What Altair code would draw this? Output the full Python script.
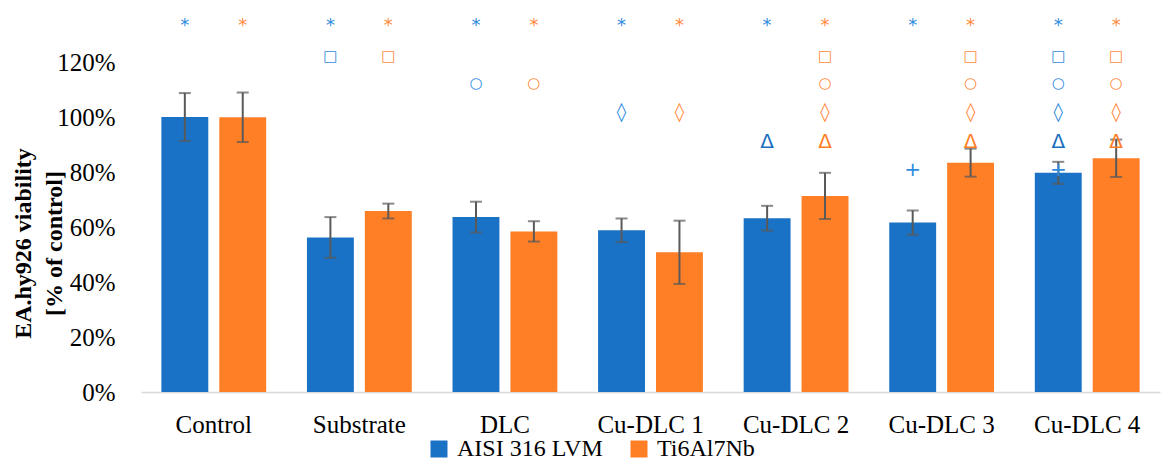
import altair as alt
import pandas as pd

categories = ["Control", "Substrate", "DLC", "Cu-DLC 1", "Cu-DLC 2", "Cu-DLC 3", "Cu-DLC 4"]
series = ["AISI 316 LVM", "Ti6Al7Nb"]

aisi_mean = [100.0, 56.2, 63.6, 58.8, 63.2, 61.6, 79.7]
aisi_sd = [8.7, 7.4, 5.6, 4.3, 4.5, 4.4, 4.0]
ti_mean = [99.9, 65.8, 58.4, 50.8, 71.3, 83.4, 85.0]
ti_sd = [9.0, 2.7, 3.7, 11.5, 8.4, 5.1, 6.8]

# significance markers above each bar
aisi_marks = [["*"], ["*", "□"], ["*", "○"], ["*", "◊"], ["*", "Δ"], ["*", "+"],
              ["*", "□", "○", "◊", "Δ", "+"]]
ti_marks = [["*"], ["*", "□"], ["*", "○"], ["*", "◊"], ["*", "□", "○", "◊", "Δ"],
            ["*", "□", "○", "◊", "Δ"], ["*", "□", "○", "◊", "Δ"]]
mark_levels = {"*": 133.0, "□": 122.2, "○": 112.3, "◊": 102.0, "Δ": 91.0, "+": 80.7}

y_ticks = [0, 20, 40, 60, 80, 100, 120]

# styles
BAR_COLORS = ["#1A72C6", "#FF7F27"]
SYM_COLORS = {"AISI 316 LVM": "#2E8BDD", "Ti6Al7Nb": "#FF8A3D"}
DELTA_COLORS = {"AISI 316 LVM": "#1A6EC0", "Ti6Al7Nb": "#FF7F27"}
SYM_SIZES = {"*": 18, "□": 15, "○": 15, "◊": 19, "Δ": 20, "+": 20}
FONT = "Liberation Serif"

rows = []
for s, means, sds in [(series[0], aisi_mean, aisi_sd), (series[1], ti_mean, ti_sd)]:
    for c, m, sd in zip(categories, means, sds):
        rows.append({"category": c, "series": s, "mean": m, "lo": m - sd, "hi": m + sd})
bars_df = pd.DataFrame(rows)

sym_rows = []
for s, marks in [(series[0], aisi_marks), (series[1], ti_marks)]:
    for c, ms in zip(categories, marks):
        for sym in ms:
            sym_rows.append({
                "category": c, "series": s, "sym": sym, "level": mark_levels[sym],
                "col": DELTA_COLORS[s] if sym == "Δ" else SYM_COLORS[s],
                "fs": SYM_SIZES[sym],
            })
sym_df = pd.DataFrame(sym_rows)

x_enc = alt.X(
    "category:N", sort=categories,
    scale=alt.Scale(paddingInner=0.28, paddingOuter=0.14),
    axis=alt.Axis(title=None, labelAngle=0, ticks=False, domainColor="#D9D9D9",
                  domainWidth=1.5, labelFont=FONT, labelFontSize=25,
                  labelColor="#000000", labelPadding=20),
)
xo_enc = alt.XOffset("series:N", sort=series,
                     scale=alt.Scale(paddingInner=0.19, paddingOuter=0))
y_scale = alt.Scale(domain=[0, 140], nice=False, zero=True)
y_axis = alt.Axis(values=y_ticks, labelExpr="datum.value + '%'", grid=False,
                  domain=False, ticks=False, labelFont=FONT, labelFontSize=25,
                  labelColor="#000000", labelPadding=26,
                  title=["EA.hy926 viability", "[% of control]"],
                  titleFont=FONT, titleFontSize=24, titleFontWeight="bold",
                  titleColor="#000000", titleAngle=270, titleBaseline="middle",
                  titleX=-118, titleY=236, titleLineHeight=31)

bars = alt.Chart(bars_df).mark_bar().encode(
    x=x_enc,
    xOffset=xo_enc,
    y=alt.Y("mean:Q", scale=y_scale, axis=y_axis),
    color=alt.Color("series:N", sort=series,
                    scale=alt.Scale(domain=series, range=BAR_COLORS),
                    legend=alt.Legend(orient="none", legendX=286, legendY=430,
                                      direction="horizontal", title=None,
                                      symbolType="square", symbolSize=289,
                                      symbolStrokeWidth=0, labelFont=FONT,
                                      labelFontSize=24, labelColor="#000000",
                                      labelLimit=400,
                                      columnPadding=24, labelOffset=6, padding=0)),
)

err = alt.Chart(bars_df).mark_rule(color="#595959", strokeWidth=2).encode(
    x=x_enc, xOffset=xo_enc,
    y=alt.Y("lo:Q", scale=y_scale, axis=y_axis), y2="hi:Q",
)
cap_lo = alt.Chart(bars_df).mark_tick(color="#595959", thickness=2, size=12).encode(
    x=x_enc, xOffset=xo_enc, y=alt.Y("lo:Q", scale=y_scale, axis=y_axis),
)
cap_hi = alt.Chart(bars_df).mark_tick(color="#595959", thickness=2, size=12).encode(
    x=x_enc, xOffset=xo_enc, y=alt.Y("hi:Q", scale=y_scale, axis=y_axis),
)

syms = alt.Chart(sym_df).mark_text(font="DejaVu Sans", baseline="middle",
                                   align="center").encode(
    x=x_enc, xOffset=xo_enc,
    y=alt.Y("level:Q", scale=y_scale, axis=y_axis),
    text="sym:N",
    color=alt.Color("col:N", scale=None),
    size=alt.Size("fs:Q", scale=None),
)

chart = alt.layer(bars, err, cap_lo, cap_hi, syms).properties(
    width=1019, height=385,
    padding={"left": 141, "top": 7, "right": 6, "bottom": 70},
    autosize=alt.AutoSizeParams(type="none"),
    background="#FFFFFF",
).configure_view(stroke=None)

chart.save("out.html", embed_options={"renderer": "svg", "actions": False})
